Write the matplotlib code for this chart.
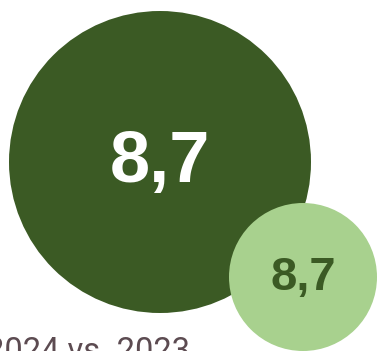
import matplotlib.pyplot as plt
from matplotlib.patches import Circle

# values shown in the bubbles (2024 vs 2023)
values = [8.7, 8.7]
years = ["2024", "2023"]
colors = ["#3b5a24", "#a8d18e"]
text_colors = ["#ffffff", "#3b5a24"]

# layout in pixels
centers = [(160, 162), (303, 277)]
radii = [151, 74]
font_sizes = [52, 34]

fig = plt.figure(figsize=(3.77, 3.51), dpi=100)
ax = fig.add_axes([0, 0, 1, 1])
ax.set_xlim(0, 377)
ax.set_ylim(351, 0)
ax.set_aspect("equal")
ax.axis("off")

for i in range(len(values)):
    c = Circle(centers[i], radii[i], color=colors[i], lw=0)
    ax.add_patch(c)
    label = f"{values[i]:.1f}".replace(".", ",")
    ax.text(centers[i][0], centers[i][1] + 1, label, ha="center", va="center",
            fontsize=font_sizes[i], fontweight="bold", color=text_colors[i],
            family="Liberation Sans")

ax.text(-14, 361, f"{years[0]} vs. {years[1]}", ha="left", va="baseline",
        fontsize=23.5, color="#5c4b51", family="Roboto")

fig.savefig("out.png", dpi=100)
